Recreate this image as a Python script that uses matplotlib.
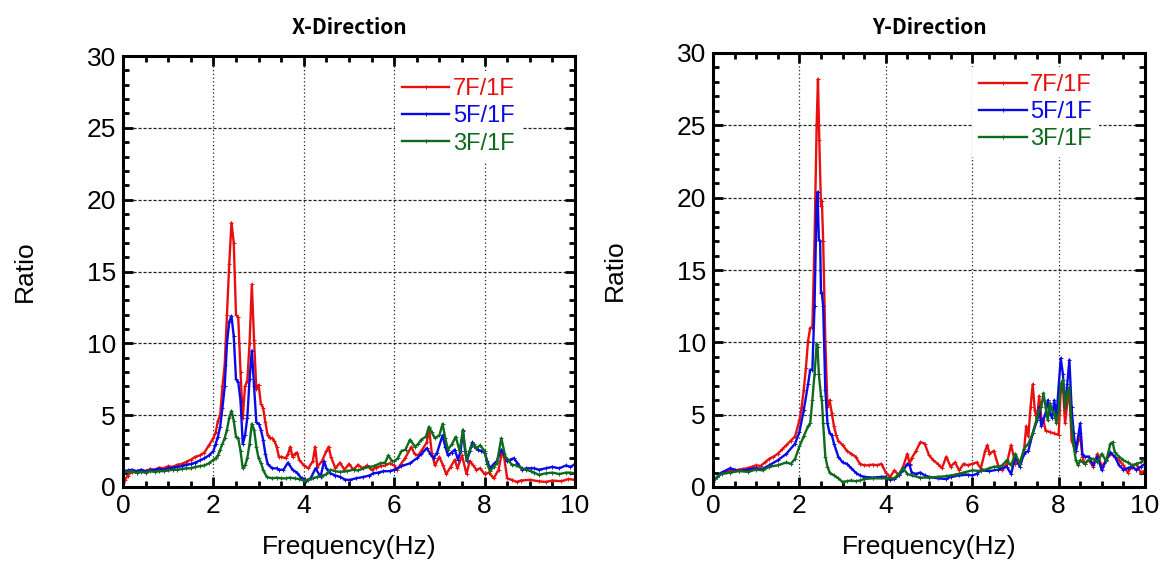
import matplotlib
matplotlib.use("Agg")
import matplotlib.pyplot as plt
from matplotlib.ticker import MultipleLocator

plt.rcParams['font.family'] = ['Liberation Sans', 'DejaVu Sans']

# ---- X-Direction ----
x_f7 = [0.0, 0.05, 0.1, 0.2, 0.3, 0.4, 0.5, 0.6, 0.7, 0.8, 0.9, 1.0, 1.1, 1.2, 1.3, 1.4, 1.5, 1.6, 1.7, 1.8,
        1.9, 2.0, 2.05, 2.1, 2.15, 2.2, 2.25, 2.3, 2.35, 2.4, 2.45, 2.5, 2.55, 2.6, 2.65, 2.7, 2.75, 2.8,
        2.85, 2.9, 2.95, 3.0, 3.05, 3.1, 3.15, 3.2, 3.25, 3.3, 3.35, 3.4, 3.45, 3.5, 3.6, 3.65, 3.7, 3.75,
        3.8, 3.85, 3.9, 4.0, 4.1, 4.2, 4.25, 4.3, 4.4, 4.5, 4.55, 4.6, 4.7, 4.8, 4.9, 5.0, 5.1, 5.2, 5.3,
        5.4, 5.5, 5.6, 5.7, 5.8, 5.9, 6.0, 6.06, 6.15, 6.24, 6.38, 6.45, 6.53, 6.62, 6.72, 6.77, 6.83, 6.9,
        7.0, 7.08, 7.15, 7.25, 7.34, 7.4, 7.5, 7.6, 7.67, 7.75, 7.82, 7.9, 8.0, 8.1, 8.2, 8.31, 8.38, 8.43,
        8.5, 8.6, 8.71, 8.8, 9.0, 9.2, 9.35, 9.5, 9.7, 9.85, 10.0]
x_r7 = [0.3, 0.5, 0.8, 1.05, 1.0, 1.15, 1.1, 1.25, 1.2, 1.35, 1.3, 1.45, 1.4, 1.55, 1.6, 1.75, 1.9, 2.1, 2.2, 2.4,
        2.9, 3.4, 3.8, 4.6, 5.0, 7.0, 8.5, 12.0, 15.5, 18.4, 17.0, 12.0, 11.8, 8.0, 4.8, 7.0, 7.4, 10.0,
        14.1, 10.2, 6.8, 7.1, 5.8, 5.5, 4.5, 3.6, 3.4, 3.4, 3.2, 2.8, 2.1, 2.1, 2.0, 2.3, 2.8, 2.1,
        2.3, 2.4, 1.9, 1.5, 1.3, 1.8, 2.8, 1.4, 1.8, 2.5, 2.8, 2.1, 1.3, 1.7, 1.2, 1.6, 1.2, 1.55, 1.3,
        1.5, 1.2, 1.35, 1.45, 1.5, 1.65, 1.5, 1.2, 1.6, 2.0, 2.8, 2.3, 2.2, 2.6, 3.1, 4.1, 2.4, 1.5,
        2.1, 1.5, 0.9, 1.4, 1.9, 1.3, 2.2, 0.9, 1.8, 1.5, 1.2, 1.3, 0.9, 1.0, 0.6, 1.2, 2.4, 2.1,
        0.6, 0.5, 0.35, 0.45, 0.5, 0.4, 0.35, 0.45, 0.4, 0.55, 0.5]

x_f5 = [0.0, 0.1, 0.2, 0.3, 0.4, 0.5, 0.6, 0.7, 0.8, 0.9, 1.0, 1.1, 1.2, 1.3, 1.4, 1.5, 1.6, 1.7, 1.8, 1.9,
        2.0, 2.05, 2.1, 2.15, 2.2, 2.25, 2.3, 2.35, 2.4, 2.45, 2.5, 2.55, 2.6, 2.65, 2.7, 2.75, 2.8, 2.85,
        2.9, 2.95, 3.0, 3.05, 3.1, 3.15, 3.2, 3.3, 3.4, 3.45, 3.55, 3.65, 3.75, 3.85, 3.95, 4.05, 4.15,
        4.26, 4.37, 4.45, 4.5, 4.59, 4.7, 4.81, 4.92, 5.03, 5.15, 5.32, 5.45, 5.54, 5.65, 5.76, 5.9, 6.0,
        6.16, 6.35, 6.5, 6.6, 6.72, 6.8, 6.87, 6.95, 7.07, 7.13, 7.19, 7.27, 7.34, 7.41, 7.47, 7.52, 7.57,
        7.61, 7.67, 7.73, 7.8, 7.85, 7.93, 8.0, 8.06, 8.12, 8.2, 8.27, 8.37, 8.43, 8.49, 8.57, 8.64, 8.72,
        8.83, 8.92, 9.02, 9.1, 9.2, 9.35, 9.5, 9.65, 9.8, 9.9, 10.0]
x_r5 = [1.1, 1.15, 1.2, 1.1, 1.2, 1.1, 1.15, 1.2, 1.25, 1.2, 1.3, 1.35, 1.4, 1.45, 1.55, 1.6, 1.7, 1.85, 2.0, 2.2,
        2.5, 3.0, 3.5, 4.2, 5.5, 7.0, 10.0, 11.5, 11.9, 10.5, 7.5, 7.3, 6.0, 3.0, 3.6, 4.8, 7.5, 9.5,
        7.0, 4.5, 4.4, 4.0, 3.3, 2.3, 1.6, 1.3, 1.3, 1.2, 1.2, 1.7, 1.2, 1.0, 0.6, 0.45, 0.6,
        1.3, 0.7, 1.8, 1.3, 0.95, 0.8, 0.7, 0.5, 0.5, 0.6, 0.7, 0.8, 0.95, 1.0, 1.1, 1.1, 1.2,
        1.45, 1.65, 2.0, 2.3, 2.7, 2.3, 2.0, 2.4, 3.6, 2.8, 2.2, 2.4, 2.6, 1.9, 2.5, 3.9, 2.5,
        1.8, 2.5, 3.1, 2.7, 2.6, 2.5, 2.4, 1.8, 1.3, 1.6, 1.8, 2.6, 2.3, 1.8, 1.9, 2.0, 1.7,
        1.2, 1.3, 1.3, 1.3, 1.2, 1.3, 1.4, 1.3, 1.5, 1.4, 1.6]

x_f3 = [0.0, 0.1, 0.2, 0.3, 0.4, 0.5, 0.6, 0.7, 0.8, 0.9, 1.0, 1.1, 1.2, 1.3, 1.4, 1.5, 1.6, 1.7, 1.8, 1.9,
        2.0, 2.05, 2.1, 2.15, 2.2, 2.25, 2.3, 2.35, 2.4, 2.45, 2.5, 2.55, 2.6, 2.65, 2.7, 2.75, 2.8, 2.85,
        2.9, 2.95, 3.0, 3.05, 3.1, 3.18, 3.3, 3.4, 3.5, 3.6, 3.7, 3.8, 3.9, 4.0, 4.1, 4.2, 4.3, 4.4, 4.5,
        4.59, 4.7, 4.8, 4.95, 5.1, 5.2, 5.32, 5.45, 5.55, 5.69, 5.8, 5.87, 5.95, 6.0, 6.08, 6.16, 6.25,
        6.35, 6.46, 6.53, 6.6, 6.7, 6.77, 6.83, 6.9, 7.0, 7.07, 7.13, 7.19, 7.28, 7.36, 7.45, 7.52, 7.6,
        7.7, 7.76, 7.82, 7.9, 8.0, 8.06, 8.12, 8.2, 8.27, 8.37, 8.46, 8.52, 8.6, 8.7, 8.83, 8.92, 9.02,
        9.1, 9.2, 9.35, 9.5, 9.65, 9.8, 9.9, 10.0]
x_r3 = [1.0, 1.05, 1.1, 1.0, 1.05, 1.0, 1.1, 1.05, 1.1, 1.1, 1.15, 1.2, 1.2, 1.25, 1.3, 1.3, 1.4, 1.45, 1.5, 1.65,
        1.9, 2.0, 2.2, 2.6, 3.0, 3.4, 4.0, 4.8, 5.3, 4.6, 3.5, 3.4, 2.5, 1.3, 1.5, 2.0, 3.0, 4.4,
        4.0, 2.8, 2.0, 1.7, 1.2, 0.7, 0.6, 0.65, 0.6, 0.6, 0.65, 0.6, 0.55, 0.45, 0.5, 0.6, 0.7, 0.75, 0.9,
        1.2, 1.1, 1.05, 1.1, 1.2, 1.15, 1.3, 1.4, 1.45, 1.65, 1.7, 2.2, 1.8, 1.8, 2.0, 2.5, 2.6,
        3.3, 2.8, 3.0, 3.3, 3.5, 4.2, 3.8, 3.4, 3.6, 4.4, 3.4, 2.6, 3.0, 3.5, 2.5, 4.0, 1.9,
        2.8, 3.0, 2.7, 2.9, 2.5, 1.6, 1.1, 1.4, 1.65, 3.4, 2.1, 1.9, 1.55, 1.5, 1.3, 1.2, 1.1,
        1.0, 0.85, 0.95, 1.0, 0.9, 1.0, 1.0, 0.95]

# ---- Y-Direction ----
y_f7 = [0.0, 0.1, 0.2, 0.3, 0.4, 0.5, 0.6, 0.7, 0.8, 0.9, 1.0, 1.1, 1.2, 1.3, 1.4, 1.5, 1.6, 1.7, 1.8, 1.9,
        2.0, 2.05, 2.1, 2.15, 2.2, 2.25, 2.3, 2.35, 2.4, 2.43, 2.46, 2.5, 2.52, 2.55, 2.6, 2.65, 2.7, 2.75,
        2.8, 2.85, 2.9, 3.0, 3.1, 3.2, 3.3, 3.4, 3.5, 3.6, 3.7, 3.8, 3.9, 4.0, 4.1, 4.2, 4.3, 4.4, 4.5,
        4.55, 4.6, 4.7, 4.8, 4.9, 5.0, 5.1, 5.2, 5.3, 5.4, 5.5, 5.6, 5.7, 5.8, 5.9, 6.0, 6.1, 6.2, 6.3,
        6.35, 6.4, 6.5, 6.6, 6.7, 6.8, 6.9, 7.0, 7.1, 7.2, 7.25, 7.3, 7.35, 7.4, 7.45, 7.5, 7.55, 7.6,
        7.65, 7.7, 7.8, 7.9, 8.0, 8.05, 8.1, 8.15, 8.2, 8.25, 8.3, 8.4, 8.5, 8.55, 8.6, 8.7, 8.8, 8.9,
        9.0, 9.1, 9.2, 9.3, 9.4, 9.5, 9.6, 9.7, 9.8, 9.9, 10.0]
y_r7 = [0.45, 0.7, 1.0, 1.05, 1.1, 1.15, 1.2, 1.25, 1.3, 1.4, 1.5, 1.45, 1.7, 1.95, 2.1, 2.3, 2.6, 2.9, 3.2, 3.5,
        4.6, 5.5, 6.7, 8.2, 10.1, 11.0, 11.0, 17.0, 25.1, 28.2, 24.0, 19.4, 19.8, 17.0, 10.1, 5.5, 6.0, 5.1,
        4.2, 3.6, 3.2, 2.9, 2.5, 2.3, 2.1, 1.6, 1.5, 1.5, 1.55, 1.5, 1.6, 1.0, 0.7, 1.15, 0.8, 1.4, 2.3,
        1.6, 2.0, 2.5, 3.1, 3.0, 2.2, 1.85, 1.6, 1.3, 2.1, 1.4, 1.7, 1.15, 1.6, 1.5, 1.6, 1.7, 1.3, 2.5,
        2.9, 2.3, 2.5, 1.5, 1.15, 1.6, 2.9, 1.6, 1.7, 2.5, 4.2, 3.5, 5.5, 7.1, 5.3, 4.6, 6.3, 4.8,
        4.6, 3.9, 3.8, 3.7, 3.6, 6.7, 6.9, 4.4, 5.8, 6.7, 3.2, 2.5, 3.7, 2.1, 1.6, 1.85, 1.4, 2.3,
        1.4, 1.85, 2.3, 2.1, 1.85, 1.5, 1.0, 1.4, 1.6, 1.0, 1.15]

y_f5 = [0.0, 0.1, 0.2, 0.4, 0.6, 0.8, 1.0, 1.15, 1.3, 1.5, 1.7, 1.9, 2.0, 2.1, 2.2, 2.25, 2.3, 2.35, 2.4, 2.42,
        2.45, 2.48, 2.5, 2.52, 2.55, 2.6, 2.65, 2.7, 2.75, 2.8, 2.9, 3.0, 3.1, 3.2, 3.3, 3.4, 3.5, 3.7,
        3.9, 4.0, 4.1, 4.2, 4.3, 4.4, 4.5, 4.55, 4.6, 4.7, 4.8, 4.9, 5.0, 5.2, 5.4, 5.5, 5.7, 5.9, 6.0,
        6.1, 6.2, 6.4, 6.6, 6.8, 6.9, 7.0, 7.1, 7.2, 7.3, 7.4, 7.5, 7.55, 7.6, 7.7, 7.75, 7.8, 7.85, 7.9,
        7.95, 8.0, 8.05, 8.1, 8.15, 8.2, 8.25, 8.3, 8.35, 8.4, 8.5, 8.55, 8.6, 8.7, 8.8, 8.9, 9.0, 9.1,
        9.2, 9.3, 9.4, 9.5, 9.6, 9.7, 9.8, 9.9, 10.0]
y_r5 = [0.35, 0.7, 1.0, 1.3, 1.1, 1.2, 1.3, 1.25, 1.5, 1.85, 2.3, 3.0, 3.8, 5.3, 7.1, 8.1, 8.1, 12.5, 19.8, 20.4,
        17.1, 17.0, 13.4, 13.4, 12.5, 6.7, 4.4, 3.7, 3.6, 3.0, 2.1, 1.7, 1.6, 1.3, 1.0, 0.8, 0.7, 0.65,
        0.7, 0.7, 0.5, 0.55, 0.8, 1.15, 1.6, 1.5, 1.0, 0.9, 1.0, 0.8, 0.7, 0.6, 0.55, 0.7, 0.8, 0.85, 0.8,
        0.9, 1.15, 1.1, 1.2, 1.4, 0.9, 2.1, 1.4, 2.3, 2.5, 3.7, 4.6, 5.5, 4.2, 5.1, 6.0, 5.1, 4.8, 6.0,
        4.8, 6.9, 8.9, 7.8, 5.5, 7.1, 8.8, 5.5, 3.7, 2.5, 4.4, 2.3, 2.1, 2.1, 1.5, 2.1, 1.15, 1.85,
        2.4, 2.1, 1.5, 1.2, 1.3, 1.4, 1.2, 1.4, 1.6]

y_f3 = [0.0, 0.1, 0.2, 0.4, 0.6, 0.8, 1.0, 1.15, 1.3, 1.5, 1.7, 1.8, 1.9, 2.0, 2.1, 2.2, 2.25, 2.3, 2.35, 2.4,
        2.42, 2.45, 2.5, 2.52, 2.55, 2.6, 2.65, 2.7, 2.8, 2.9, 3.0, 3.1, 3.2, 3.3, 3.4, 3.5, 3.7, 4.0,
        4.2, 4.3, 4.4, 4.5, 4.6, 4.8, 5.0, 5.2, 5.4, 5.6, 5.8, 6.0, 6.2, 6.4, 6.5, 6.6, 6.7, 6.8, 6.9,
        7.0, 7.1, 7.2, 7.3, 7.4, 7.5, 7.55, 7.6, 7.65, 7.7, 7.75, 7.8, 7.85, 7.9, 7.95, 8.0, 8.05, 8.1,
        8.15, 8.2, 8.25, 8.3, 8.35, 8.4, 8.45, 8.5, 8.6, 8.7, 8.8, 8.9, 9.0, 9.1, 9.2, 9.25, 9.3, 9.4,
        9.5, 9.6, 9.7, 9.8, 9.9, 10.0]
y_r3 = [0.45, 0.7, 0.9, 1.0, 1.1, 1.05, 1.2, 1.15, 1.4, 1.5, 1.7, 1.6, 1.95, 2.8, 3.5, 4.2, 4.4, 6.0, 7.8, 9.9,
        9.7, 7.8, 6.3, 6.0, 4.4, 2.1, 1.4, 1.0, 0.8, 0.6, 0.35, 0.4, 0.45, 0.4, 0.45, 0.55, 0.6, 0.6,
        0.6, 0.9, 1.3, 0.9, 0.8, 0.65, 0.65, 0.7, 0.75, 0.85, 1.0, 1.15, 1.1, 1.3, 1.4, 1.4, 1.5, 1.85, 1.5,
        2.3, 1.6, 2.65, 3.0, 3.7, 4.8, 5.3, 5.5, 6.5, 5.5, 4.6, 5.8, 5.3, 5.1, 4.4, 5.3, 7.1, 7.4,
        5.5, 6.5, 6.9, 4.2, 2.8, 1.85, 1.5, 1.85, 1.6, 1.9, 1.95, 1.7, 2.3, 1.8, 3.0, 3.1, 2.4, 2.1,
        1.85, 1.7, 1.5, 1.6, 1.7, 1.95]

labels = ['7F/1F', '5F/1F', '3F/1F']
colors = ['#e8100f', '#0a0ae6', '#0f6a1e']

panels = [
    ('X-Direction', [(x_f7, x_r7), (x_f5, x_r5), (x_f3, x_r3)], [123, 56, 575, 487], (0.602, 0.965)),
    ('Y-Direction', [(y_f7, y_r7), (y_f5, y_r5), (y_f3, y_r3)], [713, 53, 1145, 487], (0.600, 0.968)),
]

W, H = 1161, 565
fig = plt.figure(figsize=(W / 100, H / 100), dpi=100)

for title, series, box, leg_anchor in panels:
    x0, y0, x1, y1 = box
    ax = fig.add_axes([x0 / W, (H - y1) / H, (x1 - x0) / W, (y1 - y0) / H])
    for (f, r), lab, c in zip(series, labels, colors):
        ax.plot(f, r, color=c, lw=1.7, label=lab, marker='+', ms=2.5, mew=0.7)

    ax.set_xlim(0, 10)
    ax.set_ylim(0, 30)
    ax.xaxis.set_major_locator(MultipleLocator(2))
    ax.xaxis.set_minor_locator(MultipleLocator(0.5))
    ax.yaxis.set_major_locator(MultipleLocator(5))
    ax.yaxis.set_minor_locator(MultipleLocator(1))
    ax.tick_params(which='both', direction='in', top=True, right=True, width=2, labelsize=19, pad=5)
    ax.tick_params(which='major', length=7)
    ax.tick_params(which='minor', length=4)
    for sp in ax.spines.values():
        sp.set_linewidth(2.2)

    ax.xaxis.grid(True, which='major', linestyle=(0, (1, 2)), color='#222222', lw=0.9)
    ax.yaxis.grid(True, which='major', linestyle=(0, (2.5, 1.5)), color='#222222', lw=0.9)
    ax.set_axisbelow(True)

    ax.set_xlabel('Frequency(Hz)', fontsize=19)
    ax.set_ylabel('Ratio', fontsize=19)
    h = y1 - y0
    w = x1 - x0
    ax.xaxis.set_label_coords(0.5, -(535 - y1) / h)
    ax.yaxis.set_label_coords(-86 / w, 0.5)
    ax.text(0.5, 1 + (y0 - 27) / h, title, transform=ax.transAxes, ha='center', va='center',
            fontsize=15, fontweight='bold', family=['Noto Sans CJK JP', 'DejaVu Sans'])

    leg = ax.legend(loc='upper left', bbox_to_anchor=leg_anchor, fontsize=17, frameon=True,
                    fancybox=False, edgecolor='none', facecolor='white', framealpha=1,
                    handlelength=2.0, handletextpad=0.15, labelspacing=0.22, borderpad=0.3,
                    borderaxespad=0)
    for txt, c in zip(leg.get_texts(), colors):
        txt.set_color(c)

fig.savefig('out.png', dpi=100)
